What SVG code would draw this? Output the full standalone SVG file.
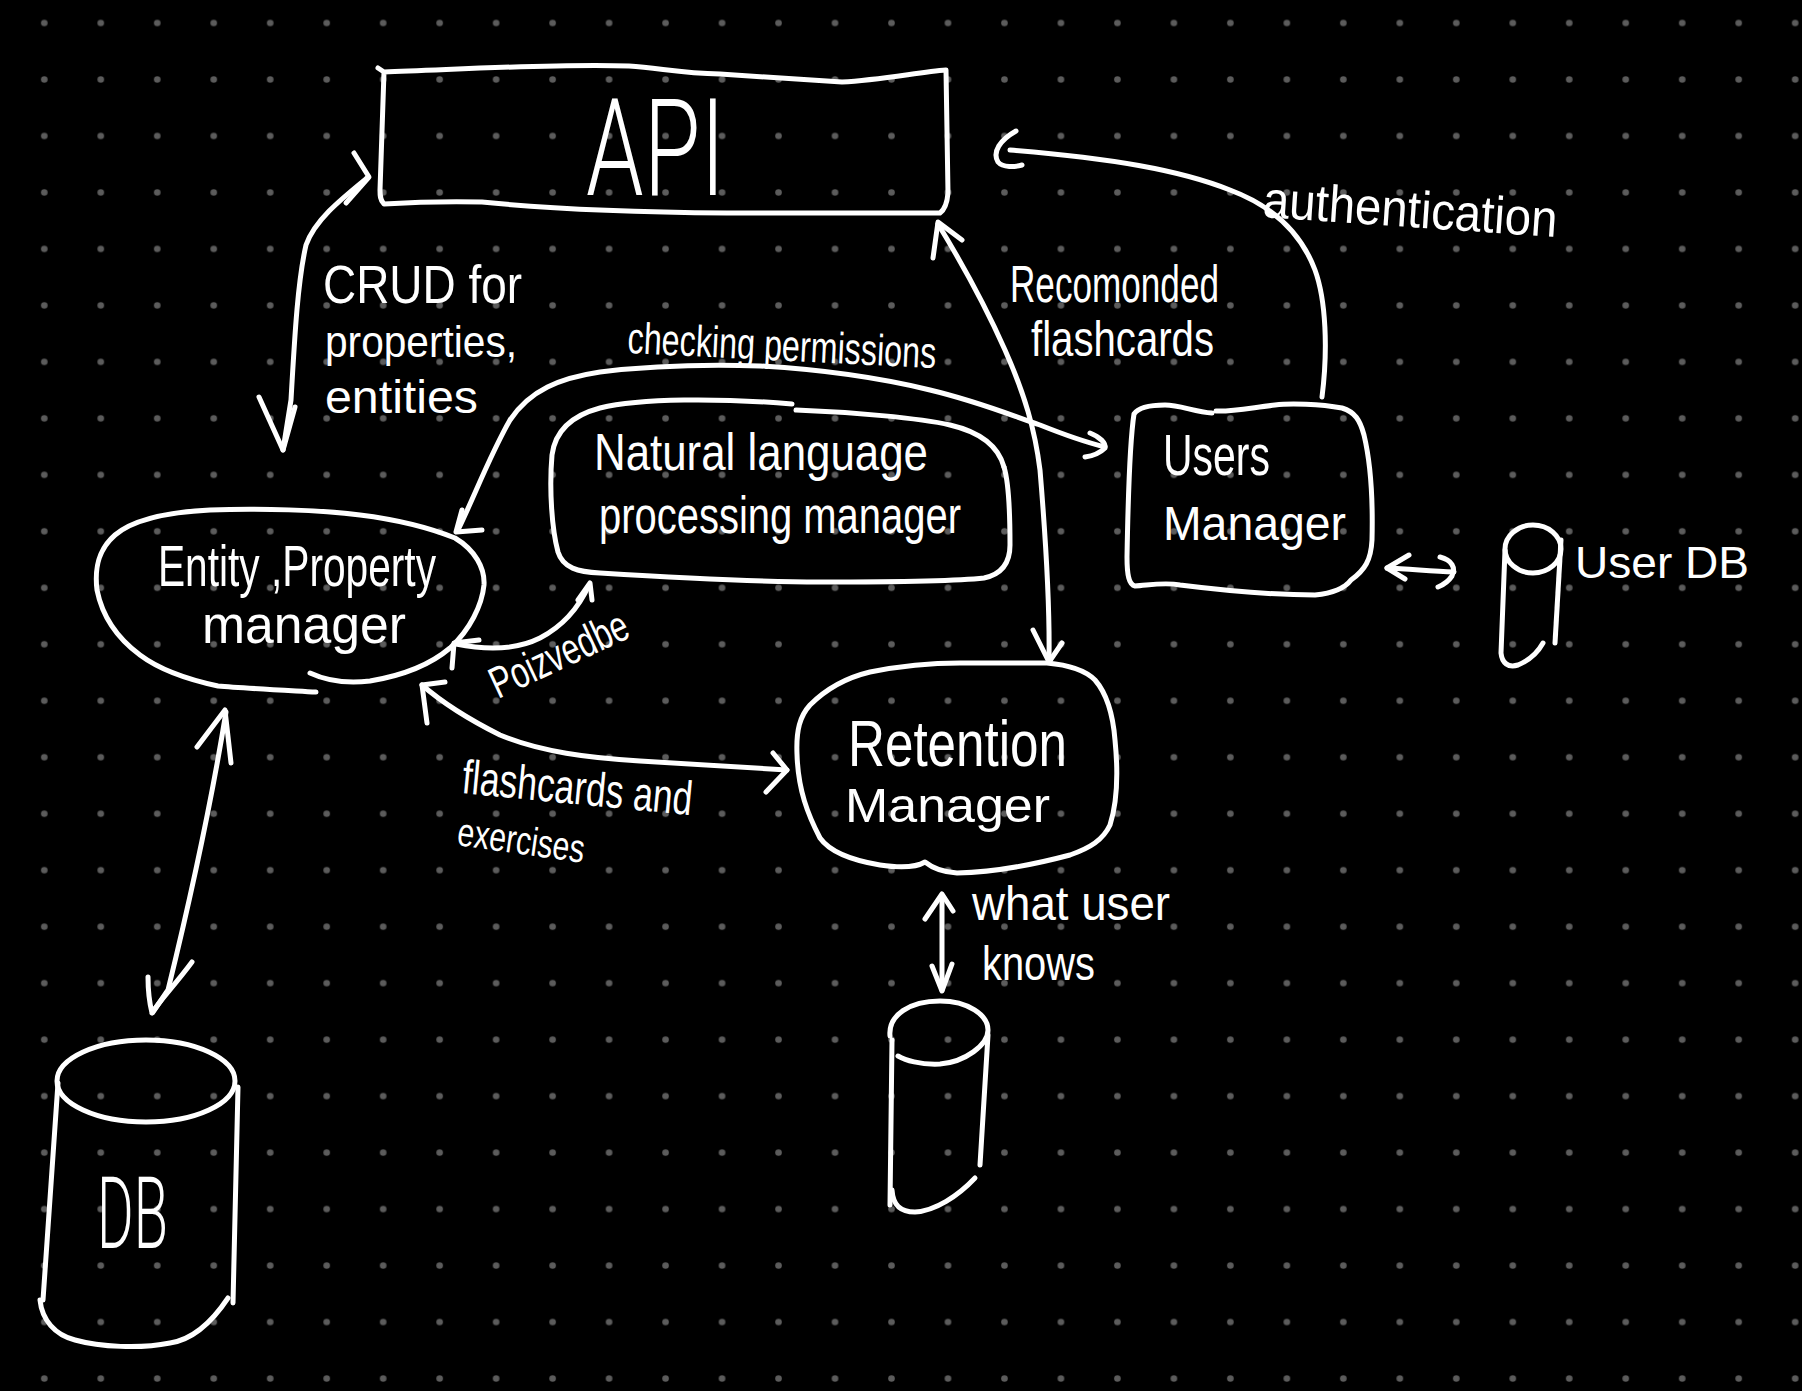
<svg xmlns="http://www.w3.org/2000/svg" width="1802" height="1391" viewBox="0 0 1802 1391">
<defs>
<pattern id="dots" x="16.06" y="-5.24" width="56.48" height="56.48" patternUnits="userSpaceOnUse">
<circle cx="28.24" cy="28.24" r="3.3" fill="#5c5c5c"/>
</pattern>
<style>
.s{fill:none;stroke:#fff;stroke-width:5;stroke-linecap:round;stroke-linejoin:round}
.t{fill:#fff;font-family:'Liberation Sans Narrow','Liberation Sans',Arial,sans-serif;font-weight:normal}
.big{fill:#fff;font-family:Roboto,'Liberation Sans',Arial,sans-serif;font-weight:300}
</style>
</defs>
<rect width="1802" height="1391" fill="#000"/>
<rect width="1802" height="1391" fill="url(#dots)"/>

<g id="api">
<path class="s" d="M378,68 L384,72 C450,70 560,63 629,66 C660,68 680,73 720,74 L842,82 C880,80 920,72 946,70 L948,193 C947,205 944,210 940,213 L727,213 C620,212 540,208 482,202 C440,201 400,203 384,204 C380,200 380,195 380,190 L384,72"/>
<text class="big" x="586" y="195" font-size="135" textLength="139" lengthAdjust="spacingAndGlyphs">API</text>
</g>

<g id="entity-property-manager">
<path class="s" d="M316,692 C280,690 240,688 218,686 C190,680 160,670 140,655 C117,638 102,615 97,590 C94,565 100,548 115,535 C135,518 170,512 210,510 C260,508 320,510 360,515 C400,520 430,528 455,538 C475,550 485,568 484,585 C482,605 470,630 450,648 C430,665 400,676 370,681 C345,684 325,680 310,673"/>
<text class="t" x="158" y="586" font-size="58" textLength="278" lengthAdjust="spacingAndGlyphs">Entity ,Property</text>
<text class="t" x="202" y="643" font-size="54" textLength="204" lengthAdjust="spacingAndGlyphs">manager</text>
</g>

<g id="nlp-manager">
<path class="s" d="M792,404 C720,398 640,398 600,408 C570,416 555,432 552,455 C549,490 552,530 558,552 C563,568 578,572 600,573 C680,578 760,582 820,582 C880,582 950,582 984,578 C1003,574 1010,562 1010,545 C1010,510 1008,480 1004,467"/>
<path class="s" d="M796,410 C850,412 920,418 950,425 C980,432 998,445 1004,467"/>
<text class="t" x="594" y="470" font-size="52" textLength="334" lengthAdjust="spacingAndGlyphs">Natural language</text>
<text class="t" x="599" y="533" font-size="52" textLength="362" lengthAdjust="spacingAndGlyphs">processing manager</text>
</g>

<g id="users-manager">
<path class="s" d="M1212,413 C1195,412 1180,405 1165,405 C1150,405 1138,408 1134,414 C1130,440 1128,500 1127,557 C1127,575 1129,585 1135,586 C1150,585 1165,582 1180,585 C1220,590 1270,595 1315,595 C1335,593 1345,588 1351,580 C1365,570 1371,560 1372,540 C1373,500 1370,460 1364,435 C1360,420 1355,412 1342,408 C1320,404 1290,403 1275,405 C1250,408 1230,412 1216,411"/>
<text class="t" x="1163" y="475" font-size="58" textLength="107" lengthAdjust="spacingAndGlyphs">Users</text>
<text class="t" x="1163" y="540" font-size="48" textLength="183" lengthAdjust="spacingAndGlyphs">Manager</text>
</g>

<g id="user-db">
<ellipse class="s" cx="1533" cy="549" rx="28" ry="24"/>
<path class="s" d="M1505,550 L1501,653 C1502,663 1508,668 1518,665 C1530,660 1538,652 1543,643"/>
<path class="s" d="M1561,540 L1555,643"/>
<text class="t" x="1575" y="578" font-size="44" textLength="174" lengthAdjust="spacingAndGlyphs">User DB</text>
</g>

<g id="retention-manager">
<path class="s" d="M880,865 C850,860 830,852 820,838 C808,815 798,790 797,754 C796,730 800,716 810,705 C825,690 845,678 870,672 C900,666 930,663 960,663 L1047,663 C1070,665 1085,670 1095,680 C1108,695 1113,715 1115,740 C1118,770 1118,800 1110,825 C1103,840 1090,848 1070,855 C1040,863 1000,872 957,873 C940,872 930,866 925,862 C915,868 900,868 880,865 Z"/>
<text class="t" x="848" y="766" font-size="64" textLength="219" lengthAdjust="spacingAndGlyphs">Retention</text>
<text class="t" x="845" y="822" font-size="48" textLength="205" lengthAdjust="spacingAndGlyphs">Manager</text>
</g>

<g id="retention-db">
<path class="s" d="M890,1036 C888,1015 910,1001 940,1001 C968,1001 988,1015 988,1030 C988,1045 965,1062 940,1064 C920,1065 905,1060 898,1056"/>
<path class="s" d="M892,1040 L890,1205"/>
<path class="s" d="M988,1035 L980,1165"/>
<path class="s" d="M892,1190 C893,1205 900,1212 915,1212 C935,1211 958,1196 975,1178"/>
</g>

<g id="db">
<ellipse class="s" cx="146" cy="1081" rx="89" ry="41"/>
<path class="s" d="M58,1083 L43,1300"/>
<path class="s" d="M238,1087 L233,1303"/>
<path class="s" d="M40,1300 C42,1320 55,1335 75,1340 C100,1347 140,1349 170,1343 C190,1340 210,1325 228,1298"/>
<text class="big" x="97" y="1248" font-size="100" textLength="71" lengthAdjust="spacingAndGlyphs">DB</text>
</g>

<g id="connectors">
<!-- CRUD -->
<path class="s" d="M367,178 C340,200 315,220 306,245 C298,280 295,330 291,400 L283,450"/>
<path class="s" d="M354,153 L369,177 L346,203"/>
<path class="s" d="M259,397 L283,450 L295,407"/>
<text class="t" x="323" y="303" font-size="54" textLength="199" lengthAdjust="spacingAndGlyphs">CRUD for</text>
<text class="t" x="325" y="357" font-size="44" textLength="192" lengthAdjust="spacingAndGlyphs">properties,</text>
<text class="t" x="325" y="413" font-size="46" textLength="153" lengthAdjust="spacingAndGlyphs">entities</text>

<!-- checking permissions -->
<path class="s" d="M458,530 C475,495 490,455 510,420 C530,390 560,378 600,372 C650,366 700,364 760,366 C830,370 880,378 930,390 C980,402 1010,415 1040,425 C1065,435 1085,442 1105,447"/>
<path class="s" d="M462,510 L456,532 L482,530"/>
<path class="s" d="M1090,433 C1100,437 1106,443 1105,448 C1100,453 1092,456 1085,457"/>
<text class="t" x="627" y="353" font-size="44" textLength="309" lengthAdjust="spacingAndGlyphs" transform="rotate(2.8 627 353)">checking permissions</text>

<!-- recommended flashcards -->
<path class="s" d="M938,224 C960,260 985,305 1005,350 C1025,395 1035,430 1040,470 C1045,530 1050,600 1049,660"/>
<path class="s" d="M933,258 L938,222 L962,240"/>
<path class="s" d="M1033,630 L1049,662 L1062,643"/>
<text class="t" x="1010" y="302" font-size="52" textLength="209" lengthAdjust="spacingAndGlyphs">Recomonded</text>
<text class="t" x="1031" y="356" font-size="50" textLength="183" lengthAdjust="spacingAndGlyphs">flashcards</text>

<!-- authentication -->
<path class="s" d="M1322,397 C1328,350 1326,300 1315,270 C1300,230 1270,205 1230,190 C1180,170 1110,158 1010,150"/>
<path class="s" d="M1016,131 C1000,140 992,152 998,162 C1003,168 1015,167 1022,165"/>
<text class="t" x="1262" y="217" font-size="52" textLength="295" lengthAdjust="spacingAndGlyphs" transform="rotate(3.9 1262 217)">authentication</text>

<!-- Poizvedbe -->
<path class="s" d="M589,585 C580,605 565,625 540,638 C520,648 495,652 456,644"/>
<path class="s" d="M578,600 L590,583 L592,600"/>
<path class="s" d="M479,640 L454,643 L452,668"/>
<text class="t" x="498" y="699" font-size="44" textLength="148" lengthAdjust="spacingAndGlyphs" transform="rotate(-25 498 699)">Poizvedbe</text>

<!-- flashcards and exercises -->
<path class="s" d="M422,685 C445,705 470,720 500,735 C540,752 590,758 640,761 C700,765 750,768 787,770"/>
<path class="s" d="M445,682 L422,685 L427,723"/>
<path class="s" d="M773,753 L787,770 L766,792"/>
<text class="t" x="461" y="793" font-size="48" textLength="231" lengthAdjust="spacingAndGlyphs" transform="rotate(5.5 461 793)">flashcards and</text>
<text class="t" x="456" y="845" font-size="40" textLength="128" lengthAdjust="spacingAndGlyphs" transform="rotate(8 456 845)">exercises</text>

<!-- entity <-> DB -->
<path class="s" d="M226,712 C215,780 195,880 168,990 L153,1012"/>
<path class="s" d="M197,747 L225,710 L231,763"/>
<path class="s" d="M192,962 C175,985 160,1000 152,1013 M148,977 C148,990 150,1005 152,1013"/>

<!-- retention <-> retention DB -->
<path class="s" d="M942,896 L942,990"/>
<path class="s" d="M925,919 L942,894 L953,911"/>
<path class="s" d="M932,966 L942,991 L952,964"/>
<text class="t" x="972" y="920" font-size="48" textLength="198" lengthAdjust="spacingAndGlyphs">what user</text>
<text class="t" x="982" y="980" font-size="48" textLength="113" lengthAdjust="spacingAndGlyphs">knows</text>

<!-- users <-> user DB -->
<path class="s" d="M1387,568 C1410,569 1430,571 1454,572"/>
<path class="s" d="M1409,555 L1387,568 L1405,579"/>
<path class="s" d="M1440,557 C1452,560 1456,568 1452,576 C1448,582 1443,585 1438,587"/>
</g>
</svg>
